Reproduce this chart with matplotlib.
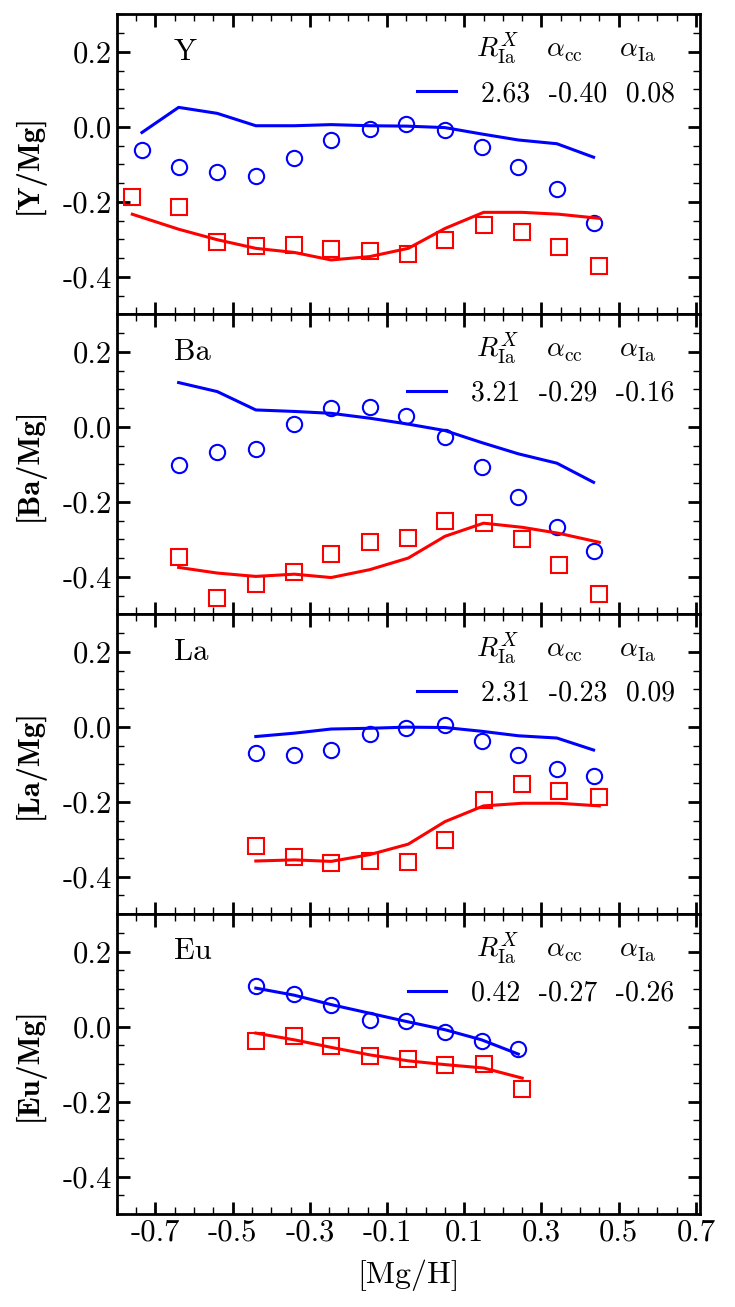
import matplotlib
matplotlib.use('Agg')
import matplotlib.pyplot as plt
from matplotlib.ticker import MultipleLocator, FormatStrFormatter

plt.rcParams['font.family'] = 'serif'
plt.rcParams['font.serif'] = ['cmr10']
plt.rcParams['mathtext.fontset'] = 'cm'
plt.rcParams['axes.unicode_minus'] = False

elements = ['Y', 'Ba', 'La', 'Eu']
fit_params = ['2.63  -0.40  0.08', '3.21  -0.29  -0.16',
              '2.31  -0.23  0.09', '0.42  -0.27  -0.26']

# x positions of bins ([Mg/H])
x_circ = [-0.735, -0.64, -0.54, -0.44, -0.34, -0.245, -0.145, -0.05, 0.05, 0.145, 0.24, 0.34, 0.435]
x_sq = [-0.76, -0.64, -0.54, -0.44, -0.34, -0.245, -0.145, -0.045, 0.05, 0.15, 0.25, 0.345, 0.45]

# Y
y_blue_line = [-0.015, 0.052, 0.036, 0.003, 0.003, 0.006, 0.003, 0.002, -0.002, -0.019, -0.035, -0.045, -0.081]
y_blue_pts = [-0.061, -0.108, -0.121, -0.131, -0.084, -0.036, -0.006, 0.008, -0.008, -0.053, -0.108, -0.165, -0.257]
y_red_line = [-0.233, -0.273, -0.301, -0.324, -0.335, -0.355, -0.346, -0.324, -0.271, -0.228, -0.228, -0.233, -0.244]
y_red_pts = [-0.186, -0.213, -0.308, -0.317, -0.316, -0.326, -0.330, -0.340, -0.303, -0.262, -0.280, -0.320, -0.371]

# Ba (starts at second bin)
ba_blue_line = [0.118, 0.094, 0.045, 0.041, 0.036, 0.023, 0.008, -0.010, -0.042, -0.072, -0.097, -0.148]
ba_blue_pts = [-0.101, -0.068, -0.058, 0.007, 0.049, 0.053, 0.028, -0.028, -0.108, -0.186, -0.266, -0.330]
ba_red_line = [-0.375, -0.390, -0.399, -0.393, -0.402, -0.381, -0.350, -0.292, -0.257, -0.268, -0.284, -0.308]
ba_red_pts = [-0.346, -0.457, -0.419, -0.387, -0.340, -0.308, -0.297, -0.251, -0.257, -0.300, -0.368, -0.445]

# La (starts at fourth bin)
la_blue_line = [-0.026, -0.017, -0.006, -0.004, -0.001, -0.002, -0.012, -0.024, -0.030, -0.062]
la_blue_pts = [-0.070, -0.076, -0.061, -0.018, -0.004, 0.004, -0.037, -0.076, -0.113, -0.132]
la_red_line = [-0.358, -0.355, -0.359, -0.341, -0.313, -0.253, -0.211, -0.204, -0.204, -0.211]
la_red_pts = [-0.317, -0.348, -0.362, -0.359, -0.361, -0.301, -0.196, -0.152, -0.172, -0.186]

# Eu (fourth to eleventh bin)
eu_blue_line = [0.103, 0.084, 0.059, 0.036, 0.014, -0.008, -0.035, -0.073]
eu_blue_pts = [0.108, 0.087, 0.057, 0.019, 0.014, -0.014, -0.037, -0.059]
eu_red_line = [-0.017, -0.035, -0.055, -0.075, -0.091, -0.101, -0.110, -0.137]
eu_red_pts = [-0.037, -0.026, -0.052, -0.079, -0.085, -0.102, -0.100, -0.166]

panels = [
    (0, 13, y_blue_line, y_blue_pts, y_red_line, y_red_pts),
    (1, 13, ba_blue_line, ba_blue_pts, ba_red_line, ba_red_pts),
    (3, 13, la_blue_line, la_blue_pts, la_red_line, la_red_pts),
    (3, 11, eu_blue_line, eu_blue_pts, eu_red_line, eu_red_pts),
]

header = r'$R_{\rm Ia}^X\ \ \ \,\alpha_{\rm cc}\ \ \ \ \,\alpha_{\rm Ia}$'

fig, axes = plt.subplots(4, 1, figsize=(7.35, 13.07), dpi=100, sharex=True)
fig.subplots_adjust(left=0.159, right=0.952, top=0.989, bottom=0.071, hspace=0)

for ax, el, fp, (i0, i1, bl, bp, rl, rp) in zip(axes, elements, fit_params, panels):
    xc = x_circ[i0:i1]
    xs = x_sq[i0:i1]
    line, = ax.plot(xc, bl, '-', color='blue', lw=2.2)
    ax.plot(xc, bp, 'o', mfc='none', mec='blue', ms=11, mew=1.5)
    ax.plot(xs, rl, '-', color='red', lw=2.2)
    ax.plot(xs, rp, 's', mfc='none', mec='red', ms=11, mew=1.5)

    ax.text(0.098, 0.875, el, transform=ax.transAxes, fontsize=22, va='center', ha='left')
    ax.text(0.925, 0.885, header, transform=ax.transAxes, fontsize=20, va='center', ha='right')
    ax.legend([line], [fp], loc='center right', bbox_to_anchor=(1.0, 0.735),
              frameon=False, fontsize=20, handlelength=1.4, handletextpad=0.9)

    ax.set_xlim(-0.8, 0.71)
    ax.set_ylim(-0.5, 0.3)
    ax.set_ylabel('[%s/Mg]' % el, fontsize=22, family='cmb10', labelpad=13)
    ax.xaxis.set_major_locator(MultipleLocator(0.2, offset=0.1))
    ax.xaxis.set_minor_locator(MultipleLocator(0.05))
    ax.yaxis.set_major_locator(MultipleLocator(0.2))
    ax.yaxis.set_minor_locator(MultipleLocator(0.05))
    ax.xaxis.set_major_formatter(FormatStrFormatter('%.1f'))
    ax.yaxis.set_major_formatter(FormatStrFormatter('%.1f'))
    ax.tick_params(which='both', direction='in', top=True, right=True, labelsize=22)
    ax.tick_params(which='major', length=9, width=2)
    ax.tick_params(which='minor', length=5, width=1)
    for s in ax.spines.values():
        s.set_linewidth(2)

axes[-1].set_xlabel('[Mg/H]', fontsize=23, labelpad=9)

fig.savefig('out.png', dpi=100)
